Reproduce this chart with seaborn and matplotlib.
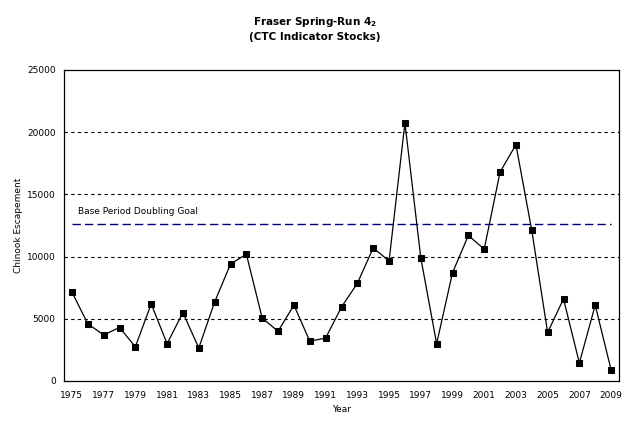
import matplotlib
matplotlib.use("Agg")
import matplotlib.pyplot as plt
import seaborn as sns
import pandas as pd
import numpy as np

years = list(range(1975, 2010))
escapement = [7150, 4600, 3700, 4300, 2750, 6200, 3000, 5500, 2650, 6350,
              9400, 10200, 5050, 4000, 6100, 3200, 3450, 5950, 7850, 10700,
              9650, 20750, 9900, 3000, 8700, 11700, 10600, 16800, 19000, 12100,
              3900, 6600, 1450, 6100, 900]
goal_value = 12600
goal_label = "Base Period Doubling Goal"
y_ticks = [0, 5000, 10000, 15000, 20000, 25000]
x_labels = list(range(1975, 2010, 2))

df = pd.DataFrame({"Year": years, "Escapement": escapement})

sns.set_style("white")
plt.rcParams['font.family'] = ['DejaVu Sans']
plt.rcParams['text.color'] = 'black'
plt.rcParams['axes.labelcolor'] = 'black'
plt.rcParams['xtick.color'] = 'black'
plt.rcParams['ytick.color'] = 'black'

fig = plt.figure(figsize=(6.3, 4.3), dpi=100)
ax = fig.add_axes([64/630, 1-381/430, (619-64)/630, (381-70)/430])

sns.lineplot(data=df, x="Year", y="Escapement", ax=ax, color="black",
             linewidth=0.9, marker="s", markersize=5, markeredgecolor="black",
             markerfacecolor="black")

# goal line
ax.plot([years[0], years[-1]], [goal_value, goal_value], color="#000080",
        linestyle=(0, (6, 3)), linewidth=1.0)
ax.text(years[0] + 0.4, goal_value + 700, goal_label, fontsize=6.5,
        ha="left", va="bottom", color="black")

ax.set_xlim(years[0] - 0.5, years[-1] + 0.5)
ax.set_ylim(0, 25000)
ax.set_yticks(y_ticks)
ax.set_yticklabels([str(v) for v in y_ticks], fontsize=6.5)
for v in y_ticks[1:-1]:
    ax.axhline(v, color="black", linestyle=(0, (3, 3)), linewidth=0.8, zorder=0)

ax.set_xticks(x_labels)
ax.set_xticklabels([str(v) for v in x_labels], fontsize=6.5)
ax.set_xticks(np.arange(years[0] - 0.5, years[-1] + 1.0, 1.0), minor=True)
ax.tick_params(axis="x", which="major", length=0, pad=7, labelcolor="black")
ax.tick_params(axis="x", which="minor", length=3, direction="out", width=0.8, color="black")
ax.tick_params(axis="y", which="major", length=3, direction="out", width=0.8, pad=3,
               color="black", labelcolor="black")

for s in ax.spines.values():
    s.set_color("black")
    s.set_linewidth(0.9)

ax.set_xlabel("Year", fontsize=6.5, labelpad=4, color="black")
ax.set_ylabel("Chinook Escapement", fontsize=6.5, labelpad=3, color="black")

fig.text(0.5, 1-22/430, r"Fraser Spring-Run 4$_\mathbf{2}$", ha="center",
         va="center", fontsize=7.5, fontweight="bold", color="black")
fig.text(0.5, 1-37/430, "(CTC Indicator Stocks)", ha="center",
         va="center", fontsize=7.5, fontweight="bold", color="black")

fig.savefig("out.png", dpi=100, facecolor="white")
